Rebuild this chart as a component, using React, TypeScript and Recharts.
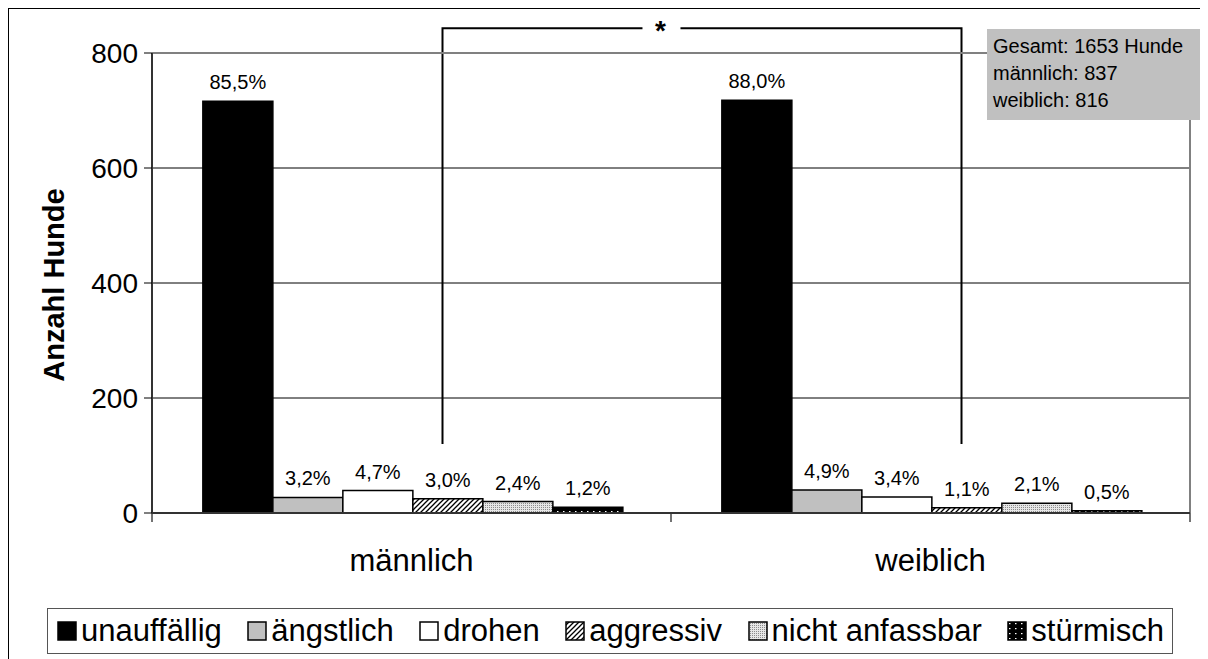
import React from 'react';
import { BarChart, Bar, XAxis, YAxis, CartesianGrid, LabelList, ReferenceLine } from 'recharts';

const categories = ['männlich', 'weiblich'];
const totals = [837, 816];

// Anzahl Hunde je Verhalten (männlich, weiblich)
const unauffaellig = [716, 718];
const aengstlich = [27, 40];
const drohen = [39, 28];
const aggressiv = [25, 9];
const nichtAnfassbar = [20, 17];
const stuermisch = [10, 4];

const yTicks = [0, 200, 400, 600, 800];
const infoLines = ['Gesamt: 1653 Hunde', 'männlich: 837', 'weiblich: 816'];

const FONT = "'Liberation Sans', Arial, sans-serif";

const SERIES = [
  { key: 'unauffaellig', name: 'unauffällig', values: unauffaellig, fill: '#000000' },
  { key: 'aengstlich', name: 'ängstlich', values: aengstlich, fill: '#c0c0c0' },
  { key: 'drohen', name: 'drohen', values: drohen, fill: '#ffffff' },
  { key: 'aggressiv', name: 'aggressiv', values: aggressiv, fill: 'url(#pat-hatch)' },
  { key: 'nichtAnfassbar', name: 'nicht anfassbar', values: nichtAnfassbar, fill: 'url(#pat-dots)' },
  { key: 'stuermisch', name: 'stürmisch', values: stuermisch, fill: 'url(#pat-dark)' },
];

const pct = (v: number, total: number) => `${((v / total) * 100).toFixed(1).replace('.', ',')}%`;

const data = categories.map((cat, i) => {
  const row: Record<string, string | number> = { name: cat };
  SERIES.forEach(s => {
    row[s.key] = s.values[i];
    row[s.key + 'Pct'] = pct(s.values[i], totals[i]);
  });
  return row;
});

function Patterns() {
  return (
    <svg width={0} height={0} style={{ position: 'absolute' }}>
      <defs>
        <pattern id="pat-hatch" patternUnits="userSpaceOnUse" width={5} height={5}>
          <rect width={5} height={5} fill="#fff" />
          <path d="M-1,1 l2,-2 M0,5 l5,-5 M4,6 l2,-2" stroke="#000" strokeWidth={1.3} />
        </pattern>
        <pattern id="pat-dots" patternUnits="userSpaceOnUse" width={2} height={2}>
          <rect width={2} height={2} fill="#e6e6e6" />
          <rect width={1} height={1} fill="#8c8c8c" />
        </pattern>
        <pattern id="pat-dark" patternUnits="userSpaceOnUse" width={6} height={5}>
          <rect width={6} height={5} fill="#000" />
          <rect x={2} y={2} width={1.5} height={1.2} fill="#fff" />
        </pattern>
      </defs>
    </svg>
  );
}

// Signifikanz-Klammer zwischen den beiden Gruppen
function Bracket(props: any) {
  const { x1, y1, x2, y2 } = props;
  if (x1 == null) return null;
  const dx = 31;
  const lx = x1 + dx;
  const rx = x2 + dx;
  const sx = lx + (rx - lx) * 0.42;
  return (
    <g>
      <path d={`M${lx},${y1} V${y2} H${sx - 18}`} fill="none" stroke="#000" strokeWidth={2} />
      <path d={`M${sx + 20},${y2} H${rx} V${y1}`} fill="none" stroke="#000" strokeWidth={2} />
      <text x={sx} y={y2 + 12} textAnchor="middle" fontSize={28} fontWeight="bold" fontFamily={FONT} fill="#000">*</text>
    </g>
  );
}

// Teilstriche an den Kategoriegrenzen unter der x-Achse
function BoundaryTicks(props: any) {
  const { x1, y1, x2 } = props;
  if (x1 == null) return null;
  const band = x2 - x1;
  const xs = [x1 - band / 2, x1 + band / 2, x2 + band / 2];
  return (
    <g>
      {xs.map((x, i) => (
        <line key={i} x1={x} x2={x} y1={y1} y2={y1 + 9} stroke="#444" strokeWidth={1.5} />
      ))}
    </g>
  );
}

function YLabel(props: any) {
  const vb = props.viewBox || {};
  const cx = vb.x + 2;
  const cy = vb.y + vb.height / 2 + 2;
  return (
    <text x={cx} y={cy} transform={`rotate(-90, ${cx}, ${cy})`} textAnchor="middle" dominantBaseline="central"
      fontSize={29} fontWeight="bold" fontFamily={FONT} fill="#000">
      Anzahl Hunde
    </text>
  );
}

function Legendbox() {
  return (
    <div style={{
      position: 'absolute', left: 38, top: 599, width: 1126, height: 46, boxSizing: 'border-box',
      border: '1px solid #555', background: '#fff', display: 'flex', alignItems: 'center',
      justifyContent: 'space-between', padding: '0 8px 0 9px', fontFamily: FONT, fontSize: 31, color: '#000',
    }}>
      {SERIES.map(s => (
        <div key={s.key} style={{ display: 'flex', alignItems: 'center', whiteSpace: 'nowrap' }}>
          <svg width={20} height={20} style={{ marginRight: 4 }}>
            <rect x={1} y={1} width={18} height={18} fill={s.fill} stroke="#000" strokeWidth={1.5} />
          </svg>
          <span>{s.name}</span>
        </div>
      ))}
    </div>
  );
}

export default function App() {
  return (
    <div style={{
      position: 'relative', width: 1200, height: 651, boxSizing: 'border-box',
      borderLeft: '1px solid #000', borderTop: '1px solid #000', overflow: 'hidden', background: '#fff',
    }}>
      <Patterns />
      <BarChart width={1199} height={650} data={data} margin={{ top: 44, right: 18, bottom: 86, left: 43 }}
        barCategoryGap="9.8%" barGap={0}>
        <CartesianGrid vertical={false} stroke="#000" strokeWidth={1} />
        <XAxis dataKey="name" height={60} tickLine={false} tickSize={0} tickMargin={36}
          axisLine={{ stroke: '#333', strokeWidth: 2 }}
          tick={{ fontSize: 31, fill: '#000', fontFamily: FONT }} />
        <YAxis domain={[0, 800]} ticks={yTicks} width={100} tickSize={8} tickMargin={6}
          axisLine={{ stroke: '#333', strokeWidth: 2 }} tickLine={{ stroke: '#000' }}
          tick={{ fontSize: 28, fill: '#000', fontFamily: FONT }} label={<YLabel />} />
        {SERIES.map(s => (
          <Bar key={s.key} dataKey={s.key} name={s.name} fill={s.fill} stroke="#000" strokeWidth={1.5}
            isAnimationActive={false}>
            <LabelList dataKey={s.key + 'Pct'} position="top" offset={12}
              style={{ fontSize: 20, fill: '#000', fontFamily: FONT }} />
          </Bar>
        ))}
        <ReferenceLine ifOverflow="visible"
          segment={[{ x: categories[0], y: 120 }, { x: categories[1], y: 843 }]}
          shape={(p: any) => <Bracket {...p} />} />
        <ReferenceLine ifOverflow="visible"
          segment={[{ x: categories[0], y: 0 }, { x: categories[1], y: 0 }]}
          shape={(p: any) => <BoundaryTicks {...p} />} />
        <ReferenceLine y={800} stroke="#808080" strokeWidth={2} />
        <ReferenceLine x={categories[1]} position="end" stroke="#808080" strokeWidth={2} />
      </BarChart>
      <div style={{
        position: 'absolute', left: 978, top: 20, width: 218, height: 91, background: '#c0c0c0',
        boxSizing: 'border-box', padding: '4px 0 0 6px', fontFamily: FONT, fontSize: 20, lineHeight: '27px', color: '#000',
      }}>
        {infoLines.map(l => <div key={l}>{l}</div>)}
      </div>
      <Legendbox />
    </div>
  );
}
